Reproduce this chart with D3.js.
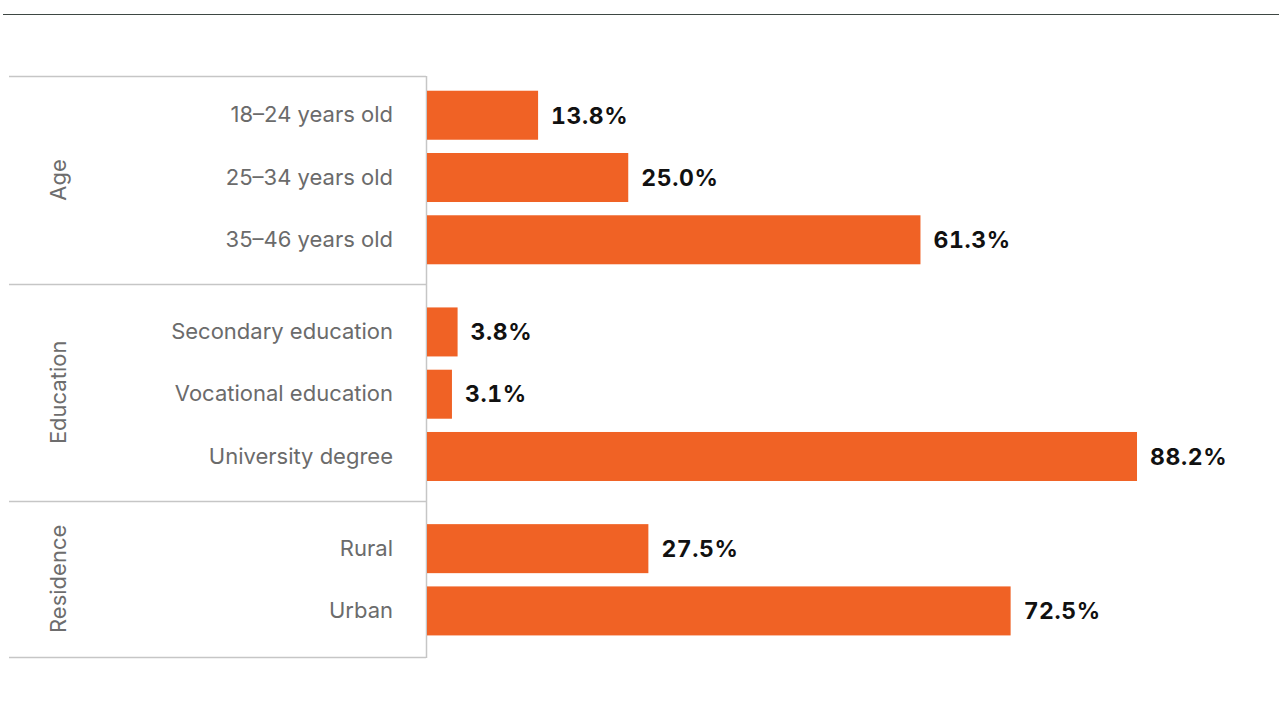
<!DOCTYPE html>
<html><head><meta charset="utf-8">
<script src="https://cdn.jsdelivr.net/npm/d3@7"></script>
<style>body{margin:0;background:#fff} svg{display:block}</style>
</head><body>
<svg id="chart" width="1279" height="706"></svg>
<script>
// Survey breakdown by age, education and residence (share of respondents, %)
const groups = ["Age", "Education", "Residence"];
const categories = ["18–24 years old", "25–34 years old", "35–46 years old",
  "Secondary education", "Vocational education", "University degree",
  "Rural", "Urban"];
const categoryGroup = ["Age", "Age", "Age", "Education", "Education", "Education", "Residence", "Residence"];
const values = [13.8, 25.0, 61.3, 3.8, 3.1, 88.2, 27.5, 72.5];

const W = 1279, H = 706;
const svg = d3.select("#chart");
const font = "Inter, 'Noto Sans', sans-serif";

// layout
const axisX = 426, groupLeft = 9;
const groupGap = 0.48;            // extra space between groups, in bar steps
const padTop = 0.63, padBottom = 0.74;
const barBand = 0.787;            // bar thickness, in bar steps

const rows = categories.map((c, i) => ({
  name: c, value: values[i], group: categoryGroup[i],
  slot: i + groups.indexOf(categoryGroup[i]) * groupGap
}));
const lastSlot = rows[rows.length - 1].slot;

const y = d3.scaleLinear().domain([-padTop, lastSlot + padBottom]).range([76, 657]);
const x = d3.scaleLinear().domain([0, 100]).range([axisX + 1, axisX + 1 + 805]);
const barH = y(barBand) - y(0);

// top rule
svg.append("line").attr("x1", 3).attr("x2", W).attr("y1", 14.5).attr("y2", 14.5)
  .attr("stroke", "#3e4743").attr("stroke-width", 1.2);

// group boundaries
const groupExtents = groups.map(g => {
  const s = rows.filter(r => r.group === g).map(r => r.slot);
  return { g, first: d3.min(s), last: d3.max(s) };
});
const bounds = [-padTop];
for (let k = 1; k < groupExtents.length; k++) {
  bounds.push((groupExtents[k - 1].last + groupExtents[k].first) / 2 - 0.03);
}
bounds.push(lastSlot + padBottom);

svg.append("g").selectAll("line").data(bounds).join("line")
  .attr("x1", groupLeft).attr("x2", axisX)
  .attr("y1", d => Math.round(y(d)) + 0.5).attr("y2", d => Math.round(y(d)) + 0.5)
  .attr("stroke", "#c6c6c6").attr("stroke-width", 1.5);

svg.append("line").attr("x1", axisX + 0.5).attr("x2", axisX + 0.5)
  .attr("y1", y(bounds[0])).attr("y2", y(bounds[bounds.length - 1]) + 1)
  .attr("stroke", "#c6c6c6").attr("stroke-width", 1.5);

// group titles (rotated)
svg.append("g").selectAll("text").data(groupExtents).join("text")
  .attr("transform", (d, k) => `translate(58,${(y(bounds[k]) + y(bounds[k + 1])) / 2}) rotate(-90)`)
  .attr("text-anchor", "middle").attr("dy", "0.35em")
  .style("font-family", font).style("font-size", "22px").attr("fill", "#6d6d6d")
  .text(d => d.g);

// bars
svg.append("g").selectAll("rect").data(rows).join("rect")
  .attr("x", x(0)).attr("y", d => y(d.slot) - barH / 2)
  .attr("width", d => x(d.value) - x(0)).attr("height", barH)
  .attr("fill", "#f06225");

// category labels
svg.append("g").selectAll("text").data(rows).join("text")
  .attr("x", 393).attr("y", d => y(d.slot)).attr("dy", "0.33em")
  .attr("text-anchor", "end")
  .style("font-family", font).style("font-size", "22px").attr("fill", "#6b6b6b")
  .text(d => d.name);

// value labels
svg.append("g").selectAll("text").data(rows).join("text")
  .attr("x", d => x(d.value) + 13).attr("y", d => y(d.slot)).attr("dy", "0.36em")
  .style("font-family", font).style("font-size", "23px").style("font-weight", 700)
  .style("letter-spacing", "0.6px")
  .style("font-variant-numeric", "tabular-nums").attr("fill", "#111")
  .text(d => d.value.toFixed(1) + "%");
</script>
</body></html>
